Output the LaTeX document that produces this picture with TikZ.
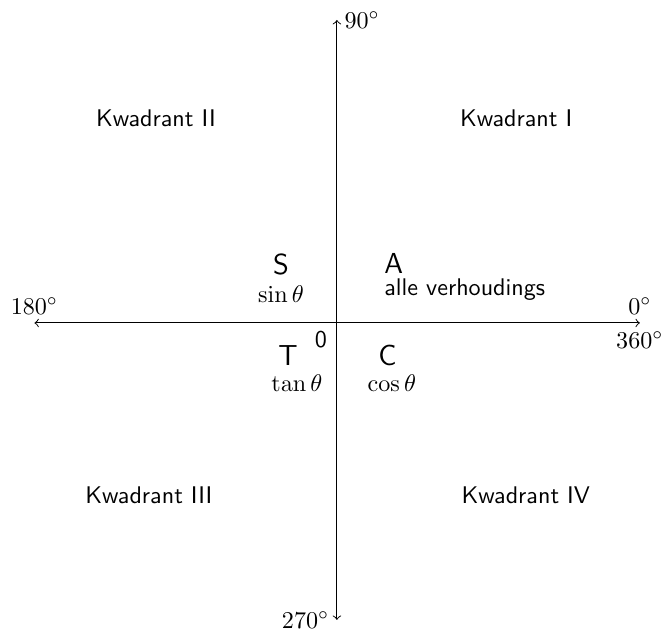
\documentclass[tikz,border=0pt]{standalone}
\usepackage{amsmath,amssymb}
\usepackage{tikz}
\usepackage{xcolor}

\begin{document}
\begin{tikzpicture}[x=1pt, y=1pt]
  \useasboundingbox (-139.8,-130.7) rectangle (134.9,134.0);
  \coordinate (xl) at (-125.5,0); \coordinate (xr) at (125.7,0); \coordinate (yt) at (0,125.7); \coordinate (yb) at (0,-123.2);
  \draw[<->] (xl) -- (xr); \draw[<->] (yb) -- (yt);
  \node[above] (d180) at (xl) {$180^\circ$}; \node[above] (d0) at (xr) {$0^\circ$}; \node[below] (d360) at (xr) {$360^\circ$};
  \node[right, inner sep=3pt] (d90) at (yt) {$90^\circ$}; \node[left, inner sep=3pt] (d270) at (yb) {$270^\circ$};
  \node (q1) at (74.4,85.1) {\sffamily Kwadrant I}; \node (q2) at (-75.1,85.1) {\sffamily Kwadrant II};
  \node (q3) at (-78.0,-71.4) {\sffamily Kwadrant III}; \node (q4) at (78.4,-71.4) {\sffamily Kwadrant IV};
  \node (s) at (-23.2,24.1) {\sffamily\large S}; \node (sin) at (-23.2,12.0) {$\sin\theta$};
  \node[anchor=west, inner sep=0pt] (a) at (19.5,24.6) {\sffamily\large A}; \node[anchor=west, inner sep=0pt] (alle) at (19.5,14.0) {\sffamily alle verhoudings};
  \node (t) at (-20.3,-13.4) {\sffamily\large T}; \node (tan) at (-16.6,-24.9) {$\tan\theta$};
  \node (c) at (21.0,-13.4) {\sffamily\large C}; \node (cos) at (22.8,-24.9) {$\cos\theta$};
  \node (o) at (-6.6,-7.1) {\sffamily 0};
\end{tikzpicture}
\end{document}
